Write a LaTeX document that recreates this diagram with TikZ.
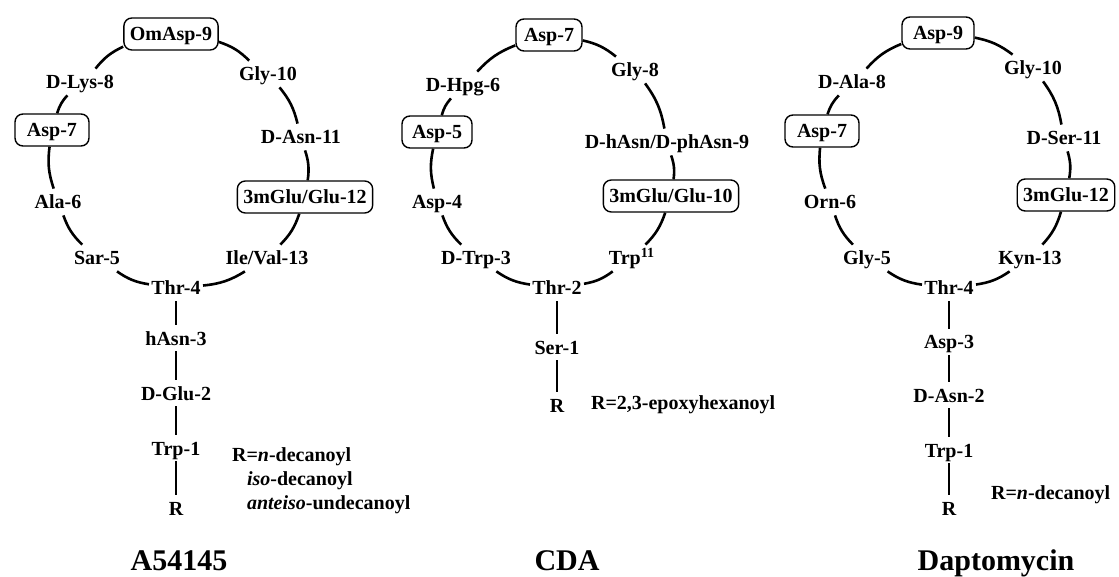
\documentclass[tikz,border=0pt]{standalone}
\usepackage{fontspec}
\setmainfont{Liberation Serif}
\usepackage{tikz}
\usetikzlibrary{positioning}

\begin{document}
\begin{tikzpicture}[
    x=0.5pt, y=-0.5pt,
    res/.style={font=\bfseries, inner sep=1pt, text height=9pt, text depth=2pt},
    resbox/.style={res, draw, line width=0.7pt, rounded corners=4pt, inner xsep=3pt, minimum height=16pt, minimum width=#1},
    resbox/.default=36pt,
    ring/.style={line width=1.3pt, bend left=#1},
    ring/.default=13,
    link/.style={line width=1.3pt},
    title/.style={font=\fontsize{15}{18}\selectfont\bfseries, anchor=base},
    note/.style={font=\bfseries, anchor=west, align=left}
]
\useasboundingbox (0,0) rectangle (1119,577);

% A54145
\node[resbox=45pt] (a9) at (171,34) {OmAsp-9};
\node[res] (a10) at (268,74) {Gly-10};
\node[res] (a8) at (80,82) {D-Lys-8};
\node[resbox=37pt] (a7) at (52,130) {Asp-7};
\node[res] (a11) at (301,137) {D-Asn-11};
\node[res] (a6) at (58,202) {Ala-6};
\node[resbox] (a12) at (305,197) {3mGlu/Glu-12};
\node[res] (a5) at (97,258) {Sar-5};
\node[res] (a13) at (267,258) {Ile/Val-13};
\node[res] (a4) at (176,288) {Thr-4};
\node[res] (a3) at (176,338) {hAsn-3};
\node[res] (a2) at (176,393) {D-Glu-2};
\node[res] (a1) at (176,448) {Trp-1};
\node[res] (aR) at (176,508) {R};
\node[note] (aRdef) at (225,481) {R=\textit{n}-decanoyl\\\hspace*{7.5pt}\textit{iso}-decanoyl\\\hspace*{7.5pt}\textit{anteiso}-undecanoyl};
\node[title] (aT) at (179,570) {A54145};

\draw[ring] (a4) to (a5);
\draw[ring] (a5) to (a6);
\draw[ring] (a6) to (a7);
\draw[ring] (a7) to (a8);
\draw[ring] (a8) to (a9);
\draw[ring] (a9) to (a10);
\draw[ring] (a10) to (a11);
\draw[ring] (a11) to (a12);
\draw[ring] (a12) to (a13);
\draw[ring] (a13) to (a4);
\draw[link] (a4) -- (a3);
\draw[link] (a3) -- (a2);
\draw[link] (a2) -- (a1);
\draw[link] (a1) -- (aR);

% CDA
\node[resbox=33pt] (c7) at (549,35) {Asp-7};
\node[res] (c8) at (635,70) {Gly-8};
\node[res] (c6) at (463,85) {D-Hpg-6};
\node[resbox=35pt] (c5) at (437,132) {Asp-5};
\node[res] (c9) at (667,142) {D-hAsn/D-phAsn-9};
\node[res] (c4) at (437,202) {Asp-4};
\node[resbox] (c10) at (671,196) {3mGlu/Glu-10};
\node[res] (c3) at (476,258) {D-Trp-3};
\node[res] (c11) at (632,258) {Trp\textsuperscript{11}};
\node[res] (c2) at (557,288) {Thr-2};
\node[res] (c1) at (557,347) {Ser-1};
\node[res] (cR) at (557,405) {R};
\node[note] (cRdef) at (584,405) {R=2,3-epoxyhexanoyl};
\node[title] (cT) at (567,570) {CDA};

\draw[ring] (c2) to (c3);
\draw[ring] (c3) to (c4);
\draw[ring] (c4) to (c5);
\draw[ring] (c5) to (c6);
\draw[ring] (c6) to (c7);
\draw[ring] (c7) to (c8);
\draw[ring] (c8) to (c9);
\draw[ring] (c9) to (c10);
\draw[ring] (c10) to (c11);
\draw[ring] (c11) to (c2);
\draw[link] (c2) -- (c1);
\draw[link] (c1) -- (cR);

% Daptomycin
\node[resbox] (d9) at (938,33) {Asp-9};
\node[res] (d10) at (1033,68) {Gly-10};
\node[res] (d8) at (852,82) {D-Ala-8};
\node[resbox=37pt] (d7) at (822,131) {Asp-7};
\node[res] (d11) at (1064,138) {D-Ser-11};
\node[res] (d6) at (830,202) {Orn-6};
\node[resbox] (d12) at (1066,195) {3mGlu-12};
\node[res] (d5) at (867,258) {Gly-5};
\node[res] (d13) at (1030,258) {Kyn-13};
\node[res] (d4) at (949,288) {Thr-4};
\node[res] (d3) at (949,342) {Asp-3};
\node[res] (d2) at (949,395) {D-Asn-2};
\node[res] (d1) at (949,450) {Trp-1};
\node[res] (dR) at (949,508) {R};
\node[note] (dRdef) at (984,495) {R=\textit{n}-decanoyl};
\node[title] (dT) at (996,570) {Daptomycin};

\draw[ring] (d4) to (d5);
\draw[ring] (d5) to (d6);
\draw[ring] (d6) to (d7);
\draw[ring] (d7) to (d8);
\draw[ring] (d8) to (d9);
\draw[ring] (d9) to (d10);
\draw[ring] (d10) to (d11);
\draw[ring] (d11) to (d12);
\draw[ring] (d12) to (d13);
\draw[ring] (d13) to (d4);
\draw[link] (d4) -- (d3);
\draw[link] (d3) -- (d2);
\draw[link] (d2) -- (d1);
\draw[link] (d1) -- (dR);

\end{tikzpicture}
\end{document}
